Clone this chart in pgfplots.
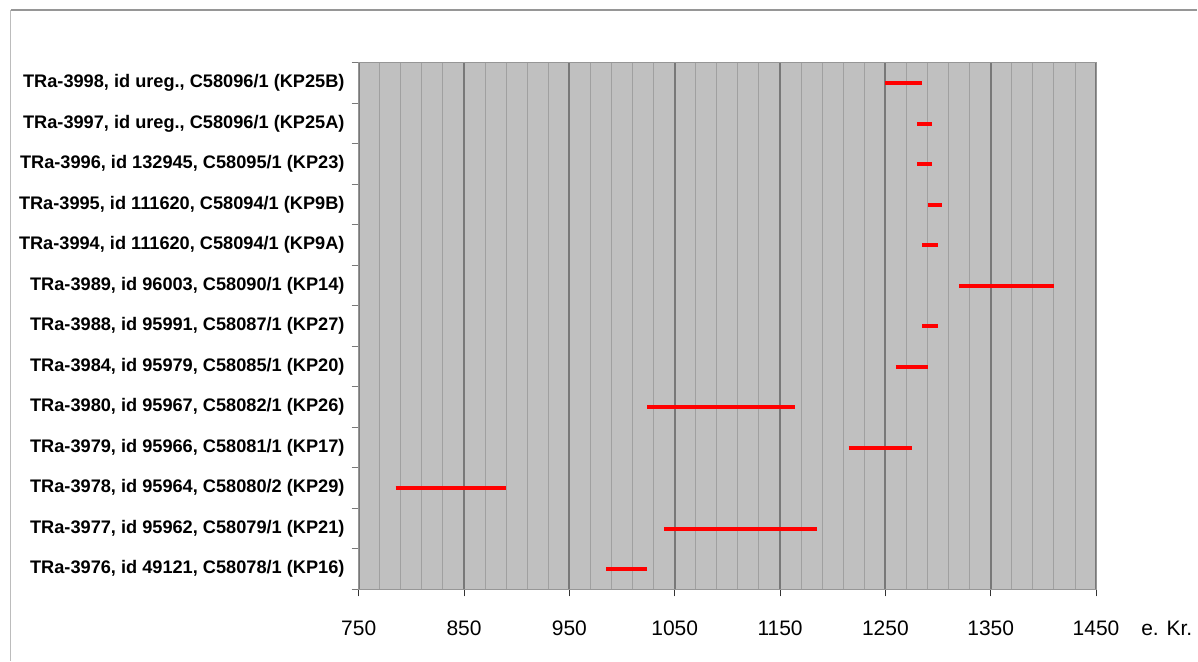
\documentclass[border=0pt]{standalone}
\usepackage{pgfplots}
\pgfplotsset{compat=1.18}
\usepackage{fontspec}
\setmainfont{Liberation Sans}
\definecolor{bg}{RGB}{192,192,192}
\definecolor{majg}{RGB}{120,120,120}
\definecolor{ming}{RGB}{160,160,160}
\definecolor{frm}{RGB}{150,150,150}
\begin{document}
\begin{tikzpicture}[x=1pt,y=1pt]
\fill[white] (0,0) rectangle (1198,662);
\draw[frm, line width=2pt] (11,652) -- (1198,652);
\draw[ming!70, line width=1pt] (11,652) -- (11,0);
\begin{axis}[
  at={(359pt,72pt)}, anchor=south west,
  scale only axis, width=738pt, height=527pt,
  xmin=750, xmax=1450, ymin=-0.5, ymax=12.5,
  axis background/.style={fill=bg},
  axis line style={draw=frm, line width=1pt},
  xtick={750,850,...,1450},
  minor xtick={750,770,...,1450},
  grid=both,
  major grid style={majg, line width=2pt},
  minor grid style={ming, line width=1pt},
  ymajorgrids=false, yminorgrids=false,
  tick align=outside,
  xtick pos=bottom, ytick pos=left,
  major tick length=7pt,
  minor tick length=7pt,
  x tick style={black!80, line width=1pt},
  minor x tick style={draw=none},
  ytick={0,...,12},
  minor ytick={-0.5,0.5,...,12.5},
  y tick style={majg, line width=1pt},
  major y tick style={draw=none},
  yticklabels={{TRa-3976, id 49121, C58078/1 (KP16)},
    {TRa-3977, id 95962, C58079/1 (KP21)},
    {TRa-3978, id 95964, C58080/2 (KP29)},
    {TRa-3979, id 95966, C58081/1 (KP17)},
    {TRa-3980, id 95967, C58082/1 (KP26)},
    {TRa-3984, id 95979, C58085/1 (KP20)},
    {TRa-3988, id 95991, C58087/1 (KP27)},
    {TRa-3989, id 96003, C58090/1 (KP14)},
    {TRa-3994, id 111620, C58094/1 (KP9A)},
    {TRa-3995, id 111620, C58094/1 (KP9B)},
    {TRa-3996, id 132945, C58095/1 (KP23)},
    {TRa-3997, id ureg., C58096/1 (KP25A)},
    {TRa-3998, id ureg., C58096/1 (KP25B)}},
  yticklabel style={font=\fontsize{18.2}{20}\selectfont\bfseries, inner sep=0pt, xshift=-7pt, anchor=east},
  xticklabel style={font=\fontsize{21}{24}\selectfont, inner sep=0pt, yshift=-24pt, anchor=north},
  /pgf/number format/assume math mode=true,
  /pgf/number format/1000 sep={},
  clip=false,
]
\addplot[red, line width=4pt, forget plot] coordinates {(985,0) (1024,0)};
\addplot[red, line width=4pt, forget plot] coordinates {(1040,1) (1185,1)};
\addplot[red, line width=4pt, forget plot] coordinates {(785,2) (890,2)};
\addplot[red, line width=4pt, forget plot] coordinates {(1215,3) (1275,3)};
\addplot[red, line width=4pt, forget plot] coordinates {(1024,4) (1164,4)};
\addplot[red, line width=4pt, forget plot] coordinates {(1260,5) (1290,5)};
\addplot[red, line width=4pt, forget plot] coordinates {(1285,6) (1300,6)};
\addplot[red, line width=4pt, forget plot] coordinates {(1320,7) (1410,7)};
\addplot[red, line width=4pt, forget plot] coordinates {(1285,8) (1300,8)};
\addplot[red, line width=4pt, forget plot] coordinates {(1290,9) (1304,9)};
\addplot[red, line width=4pt, forget plot] coordinates {(1280,10) (1294,10)};
\addplot[red, line width=4pt, forget plot] coordinates {(1280,11) (1294,11)};
\addplot[red, line width=4pt, forget plot] coordinates {(1250,12) (1285,12)};
\node[font=\fontsize{21}{24}\selectfont, anchor=north west, inner sep=0pt] at ([xshift=45pt,yshift=-31pt]rel axis cs:1,0) {e. Kr.};
\end{axis}
\end{tikzpicture}
\end{document}
